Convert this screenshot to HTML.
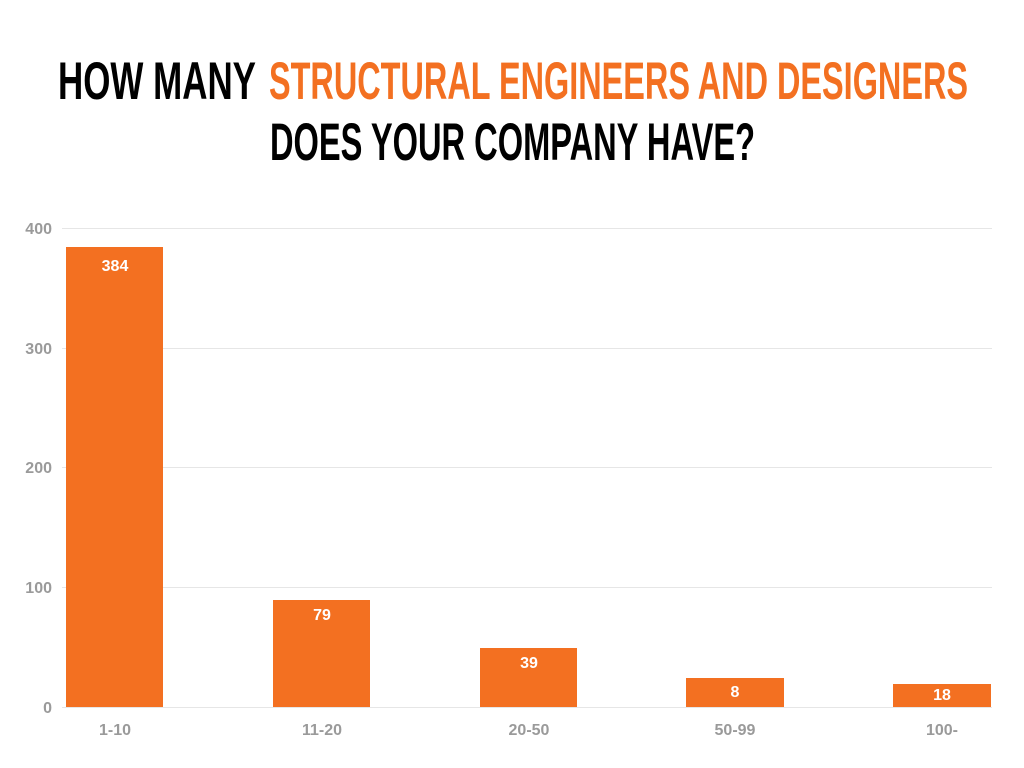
<!DOCTYPE html>
<html><head><meta charset="utf-8"><style>
html,body{margin:0;padding:0;background:#fff;}
svg{display:block}
</style></head><body>
<svg width="1024" height="768" viewBox="0 0 1024 768" xmlns="http://www.w3.org/2000/svg">
<rect width="1024" height="768" fill="#fff"/>
<g font-family="'Liberation Sans Narrow','Liberation Sans',sans-serif" font-weight="bold" font-size="53">
<text x="58" y="99" textLength="198" lengthAdjust="spacingAndGlyphs" fill="#000">HOW  MANY</text>
<text x="269" y="99" textLength="699" lengthAdjust="spacingAndGlyphs" fill="#F37021">STRUCTURAL ENGINEERS AND DESIGNERS</text>
<text x="270" y="160" textLength="485" lengthAdjust="spacingAndGlyphs" fill="#000">DOES YOUR COMPANY HAVE?</text>
</g>
<g stroke="#e6e6e6" stroke-width="1">
<line x1="62" y1="228.5" x2="992" y2="228.5"/>
<line x1="62" y1="348.5" x2="992" y2="348.5"/>
<line x1="62" y1="467.5" x2="992" y2="467.5"/>
<line x1="62" y1="587.5" x2="992" y2="587.5"/>
<line x1="62" y1="707.5" x2="992" y2="707.5"/>
</g>
<g font-family="'Liberation Sans',sans-serif" font-weight="bold" font-size="16" fill="#9a9a9a" text-anchor="end">
<text x="52" y="234">400</text>
<text x="52" y="354">300</text>
<text x="52" y="473">200</text>
<text x="52" y="593">100</text>
<text x="52" y="713">0</text>
</g>
<g fill="#F37021">
<rect x="66" y="247" width="97" height="460"/>
<rect x="273" y="600" width="97" height="107"/>
<rect x="480" y="648" width="97" height="59"/>
<rect x="686" y="678" width="98" height="29"/>
<rect x="893" y="684" width="98" height="23"/>
</g>
<g font-family="'Liberation Sans',sans-serif" font-weight="bold" font-size="16" fill="#fff" text-anchor="middle">
<text x="115" y="271">384</text>
<text x="322" y="620">79</text>
<text x="529" y="668">39</text>
<text x="735" y="697">8</text>
<text x="942" y="700">18</text>
</g>
<g font-family="'Liberation Sans',sans-serif" font-weight="bold" font-size="16" fill="#9a9a9a" text-anchor="middle">
<text x="115" y="735">1-10</text>
<text x="322" y="735">11-20</text>
<text x="529" y="735">20-50</text>
<text x="735" y="735">50-99</text>
<text x="942" y="735">100-</text>
</g>
</svg>
</body></html>
